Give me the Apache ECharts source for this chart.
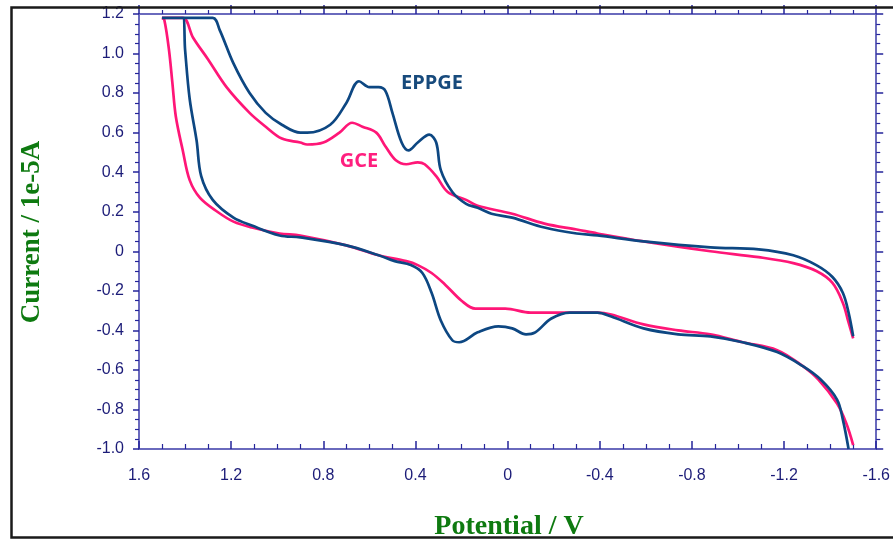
<!DOCTYPE html>
<html>
<head>
<meta charset="utf-8">
<script src="https://cdn.jsdelivr.net/npm/echarts@6/dist/echarts.min.js"></script>
<style>
  html, body { margin: 0; padding: 0; background: #ffffff; }
  #chart { width: 893px; height: 541px; }
</style>
</head>
<body>
<div id="chart"></div>
<script>
// Cyclic voltammograms: potential (V) vs current (1e-5 A)
// Each electrode is stored as two sweeps, both listed from +1.5 V towards -1.5 V.

const potentialAxis = { min: -1.6, max: 1.6, step: 0.4 };
const currentAxis = { min: -1.0, max: 1.2, step: 0.2 };

const seriesNames = ['GCE', 'EPPGE'];

// EPPGE, upper sweep
const eppgeUpper = [
  [1.50, 1.18], [1.28, 1.18], [1.25, 1.12], [1.19, 0.95], [1.12, 0.80],
  [1.05, 0.70], [0.98, 0.64], [0.90, 0.60], [0.87, 0.60], [0.77, 0.64],
  [0.70, 0.75], [0.645, 0.86], [0.60, 0.83], [0.56, 0.83], [0.53, 0.81],
  [0.50, 0.70], [0.46, 0.55], [0.43, 0.51], [0.39, 0.55], [0.34, 0.59],
  [0.31, 0.55], [0.29, 0.41], [0.24, 0.30], [0.18, 0.24], [0.13, 0.22],
  [0.07, 0.19], [-0.02, 0.17], [-0.16, 0.12], [-0.30, 0.09], [-0.39, 0.08],
  [-0.59, 0.05], [-0.88, 0.02], [-1.09, 0.01], [-1.24, -0.02], [-1.34, -0.07],
  [-1.41, -0.13], [-1.455, -0.21], [-1.48, -0.31], [-1.50, -0.43]
];

// EPPGE, lower sweep
const eppgeLower = [
  [1.50, 1.18], [1.41, 1.18], [1.40, 1.02], [1.38, 0.77], [1.35, 0.56],
  [1.33, 0.38], [1.28, 0.26], [1.19, 0.17], [1.11, 0.13], [0.99, 0.08],
  [0.90, 0.07], [0.70, 0.03], [0.56, -0.02], [0.49, -0.05], [0.42, -0.07],
  [0.37, -0.11], [0.33, -0.21], [0.29, -0.35], [0.24, -0.45], [0.21, -0.46],
  [0.13, -0.41], [0.04, -0.38], [-0.02, -0.39], [-0.08, -0.42], [-0.12, -0.41],
  [-0.19, -0.34], [-0.27, -0.31], [-0.39, -0.31], [-0.45, -0.33], [-0.59, -0.39],
  [-0.74, -0.42], [-0.88, -0.43], [-1.02, -0.46], [-1.17, -0.51], [-1.28, -0.58],
  [-1.36, -0.65], [-1.43, -0.75], [-1.455, -0.85], [-1.48, -1.00]
];

// GCE, upper sweep
const gceUpper = [
  [1.50, 1.18], [1.41, 1.18], [1.365, 1.08], [1.30, 0.97], [1.22, 0.83],
  [1.12, 0.70], [1.05, 0.63], [0.98, 0.57], [0.90, 0.55], [0.87, 0.54],
  [0.80, 0.55], [0.73, 0.60], [0.675, 0.65], [0.63, 0.63], [0.57, 0.60],
  [0.53, 0.53], [0.485, 0.46], [0.44, 0.44], [0.39, 0.45], [0.36, 0.44],
  [0.31, 0.38], [0.26, 0.30], [0.18, 0.26], [0.13, 0.23], [-0.02, 0.19],
  [-0.16, 0.14], [-0.30, 0.11], [-0.39, 0.09], [-0.59, 0.05], [-0.88, 0.00],
  [-1.09, -0.03], [-1.24, -0.06], [-1.34, -0.10], [-1.41, -0.16], [-1.455, -0.26],
  [-1.48, -0.36], [-1.50, -0.44]
];

// GCE, lower sweep
const gceLower = [
  [1.50, 1.18], [1.49, 1.17], [1.47, 1.02], [1.455, 0.85], [1.44, 0.68],
  [1.41, 0.51], [1.38, 0.36], [1.335, 0.27], [1.26, 0.20], [1.19, 0.15],
  [1.11, 0.12], [0.99, 0.09], [0.90, 0.08], [0.70, 0.03], [0.56, -0.02],
  [0.44, -0.05], [0.39, -0.07], [0.33, -0.11], [0.27, -0.17], [0.20, -0.25],
  [0.14, -0.29], [0.01, -0.29], [-0.10, -0.31], [-0.27, -0.31], [-0.39, -0.31],
  [-0.45, -0.32], [-0.59, -0.37], [-0.74, -0.40], [-0.88, -0.42], [-1.02, -0.46],
  [-1.17, -0.50], [-1.28, -0.58], [-1.35, -0.65], [-1.43, -0.77], [-1.47, -0.87],
  [-1.50, -0.98]
];

const colors = { GCE: '#ff1677', EPPGE: '#0d4782' };

// Join the two sweeps into one closed trace: upper sweep back to +1.5 V, then the lower sweep
function loop(upper, lower) {
  return upper.slice().reverse().concat(lower);
}

function tickText(v) {
  const r = Math.round(v * 10) / 10;
  return r === 0 ? '0' : r.toFixed(1);
}

const axisLineColor = '#6a6abd';
const tickColor = '#25259a';
const labelStyle = { color: '#1c1c78', fontFamily: 'Liberation Sans, Arial, sans-serif', fontSize: 16 };

const chart = echarts.init(document.getElementById('chart'), null, { renderer: 'canvas' });

const baseX = {
  type: 'value', min: potentialAxis.min, max: potentialAxis.max, interval: potentialAxis.step,
  inverse: true, splitLine: { show: false },
  axisLine: { show: true, onZero: false, lineStyle: { color: axisLineColor, width: 2 } }
};
const baseY = {
  type: 'value', min: currentAxis.min, max: currentAxis.max, interval: currentAxis.step,
  splitLine: { show: false },
  axisLine: { show: true, onZero: false, lineStyle: { color: axisLineColor, width: 2 } }
};

chart.setOption({
  animation: false,
  backgroundColor: '#ffffff',
  grid: { left: 139, right: 12, top: 14, bottom: 92, containLabel: false },
  xAxis: [
    Object.assign({}, baseX, {
      position: 'bottom',
      axisTick: { show: true, inside: true, length: 8, lineStyle: { color: tickColor, width: 1.5 } },
      minorTick: { show: true, splitNumber: 4, length: 5, lineStyle: { color: tickColor, width: 1.2 } },
      axisLabel: Object.assign({ margin: 19, formatter: tickText, showMinLabel: true, showMaxLabel: true }, labelStyle)
    }),
    Object.assign({}, baseX, {
      position: 'top',
      axisTick: { show: true, inside: false, length: 9, lineStyle: { color: tickColor, width: 1.5 } },
      minorTick: { show: true, splitNumber: 4, length: 4, lineStyle: { color: tickColor, width: 1.2 } },
      axisLabel: { show: false }
    })
  ],
  yAxis: [
    Object.assign({}, baseY, {
      position: 'left',
      axisTick: { show: true, inside: false, length: 6, lineStyle: { color: tickColor, width: 1.5 } },
      minorTick: { show: true, splitNumber: 4, length: 4, lineStyle: { color: tickColor, width: 1.2 } },
      axisLabel: Object.assign({ margin: 15, formatter: tickText }, labelStyle)
    }),
    Object.assign({}, baseY, {
      position: 'right',
      axisTick: { show: true, inside: false, length: 7, lineStyle: { color: tickColor, width: 1.5 } },
      minorTick: { show: true, splitNumber: 4, length: 4, lineStyle: { color: tickColor, width: 1.2 } },
      axisLabel: { show: false }
    })
  ],
  series: [
    {
      name: seriesNames[0], type: 'line', xAxisIndex: 0, yAxisIndex: 0,
      data: loop(gceUpper, gceLower), smooth: 0.35, showSymbol: false, clip: true,
      lineStyle: { color: colors.GCE, width: 2.7 }, z: 2
    },
    {
      name: seriesNames[1], type: 'line', xAxisIndex: 0, yAxisIndex: 0,
      data: loop(eppgeUpper, eppgeLower), smooth: 0.35, showSymbol: false, clip: true,
      lineStyle: { color: colors.EPPGE, width: 2.7 }, z: 3
    }
  ],
  graphic: [
    {
      type: 'rect', left: 9, top: 5, z: 100, silent: true,
      shape: { x: 0, y: 0, width: 900, height: 530 },
      style: { fill: 'none', stroke: '#1a1a1a', lineWidth: 2.5 }
    },
    {
      type: 'text', x: 32, y: 232, rotation: Math.PI / 2, z: 50,
      style: {
        text: 'Current / 1e-5A', fill: '#0e7a10', align: 'center', verticalAlign: 'middle',
        font: 'bold 27px "Liberation Serif", "Times New Roman", serif'
      }
    },
    {
      type: 'text', x: 509, y: 527, z: 50,
      style: {
        text: 'Potential / V', fill: '#0e7a10', align: 'center', verticalAlign: 'middle',
        font: 'bold 28px "Liberation Serif", "Times New Roman", serif'
      }
    },
    {
      type: 'text', x: 432, y: 83, z: 50,
      style: {
        text: 'EPPGE', fill: '#174a7c', align: 'center', verticalAlign: 'middle',
        font: 'bold 20px "Open Sans", Lato, sans-serif'
      }
    },
    {
      type: 'text', x: 359, y: 161, z: 50,
      style: {
        text: 'GCE', fill: '#ff1f7f', align: 'center', verticalAlign: 'middle',
        font: 'bold 20px "Open Sans", Lato, sans-serif'
      }
    }
  ]
});
</script>
</body>
</html>
